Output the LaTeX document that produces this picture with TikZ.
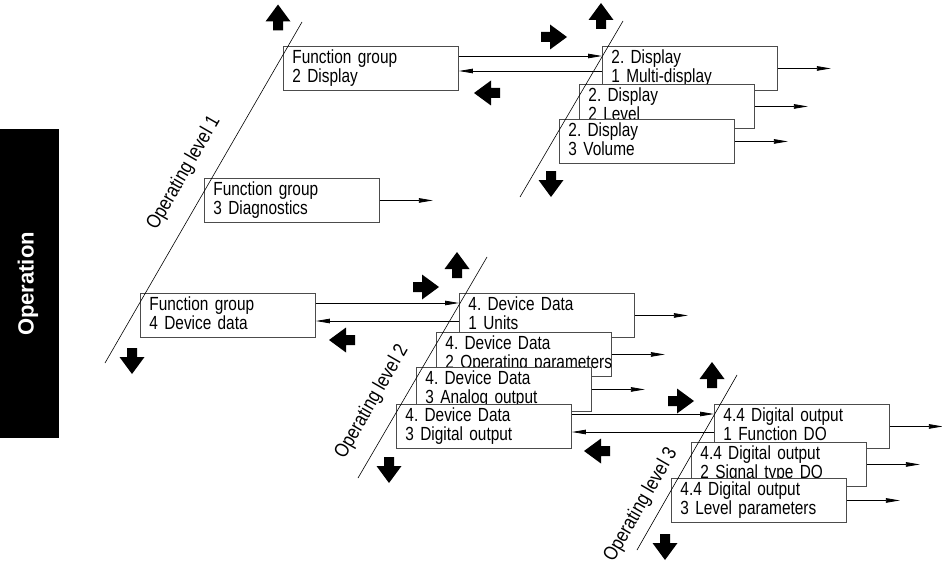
\documentclass[tikz,border=0pt]{standalone}
\usepackage{fontspec}
\setmainfont{Liberation Sans}[FakeStretch=0.81]
\newfontfamily\lblfont{Liberation Sans}[FakeStretch=0.84]
\newfontfamily\sidefont{Liberation Sans}[FakeStretch=1.0]
\usetikzlibrary{arrows.meta}
\frenchspacing
\begin{document}
\begin{tikzpicture}[x=1pt,y=-1pt,
  box/.style={draw=black!70, line width=0.9pt, fill=white, anchor=north west,
    minimum width=175pt, minimum height=44pt, text width=157pt,
    text height=14pt, text depth=23pt,
    inner xsep=9pt, inner ysep=0pt, align=left,
    font=\fontsize{19}{18.5}\selectfont},
  lvl/.style={line width=0.6pt},
  lvllabel/.style={rotate=60, font=\lblfont\fontsize{20}{21}\selectfont, inner sep=0pt},
  conn/.style={line width=0.8pt, -{Triangle[length=14pt,width=4.5pt]}},
  barrow/.pic={\fill (-13,-5) -- (-4,-5) -- (-4,-12.5) -- (13,0) -- (-4,12.5) -- (-4,5) -- (-13,5) -- cycle;}
]
\useasboundingbox (0,0) rectangle (942,567);

% side tab
\fill (0,129) rectangle (59,438);
\node[text=white, rotate=90, font=\sidefont\bfseries\fontsize{22}{23}\selectfont, inner sep=0pt] (op) at (28,284) {Operation};

% boxes
\node[box] (A) at (283,46) {\mbox{Function group}\\\mbox{2 Display}};
\node[box] (B1) at (602,46) {\mbox{2. Display}\\\mbox{1 Multi-display}};
\node[box] (B2) at (579,84) {\mbox{2. Display}\\\mbox{2 Level}};
\node[box] (B3) at (559,119) {\mbox{2. Display}\\\mbox{3 Volume}};
\node[box] (C) at (204,178) {\mbox{Function group}\\\mbox{3 Diagnostics}};
\node[box] (D) at (140,293) {\mbox{Function group}\\\mbox{4 Device data}};
\node[box] (E1) at (459,293) {\mbox{4. Device Data}\\\mbox{1 Units}};
\node[box] (E2) at (436,332) {\mbox{4. Device Data}\\\mbox{2 Operating parameters}};
\node[box] (E3) at (416,367) {\mbox{4. Device Data}\\\mbox{3 Analog output}};
\node[box] (E4) at (396,404) {\mbox{4. Device Data}\\\mbox{3 Digital output}};
\node[box] (F1) at (714,404) {\mbox{4.4 Digital output}\\\mbox{1 Function DO}};
\node[box] (F2) at (691,442) {\mbox{4.4 Digital output}\\\mbox{2 Signal type DO}};
\node[box] (F3) at (671,478) {\mbox{4.4 Digital output}\\\mbox{3 Level parameters}};

% level lines
\coordinate (l1a) at (302,22);  \coordinate (l1b) at (105,363);
\coordinate (l2a) at (623,21);  \coordinate (l2b) at (520,197);
\coordinate (l3a) at (487,257); \coordinate (l3b) at (358,478);
\coordinate (l4a) at (737,375); \coordinate (l4b) at (637,550);
\draw[lvl] (l1a) -- (l1b);
\draw[lvl] (l2a) -- (l2b);
\draw[lvl] (l3a) -- (l3b);
\draw[lvl] (l4a) -- (l4b);

% level labels
\node[lvllabel] (ol1) at (184,173) {Operating level 1};
\node[lvllabel] (ol2) at (372,402) {Operating level 2};
\node[lvllabel] (ol3) at (641,505) {Operating level 3};

% connectors between levels
\draw[conn] ([yshift=-10pt]A.north east) -- ([yshift=-10pt]B1.north west);
\draw[conn] ([yshift=-25pt]B1.north west) -- ([yshift=-25pt]A.north east);
\draw[conn] ([yshift=-10pt]D.north east) -- ([yshift=-10pt]E1.north west);
\draw[conn] ([yshift=-28pt]E1.north west) -- ([yshift=-28pt]D.north east);
\draw[conn] ([yshift=-10pt]E4.north east) -- ([yshift=-10pt]F1.north west);
\draw[conn] ([yshift=-28pt]F1.north west) -- ([yshift=-28pt]E4.north east);

% outgoing arrows
\foreach \n in {B1,B2,B3,C,E1,E2,E3,F1,F2,F3}
  \draw[conn] (\n.east) -- ++(53,0);

% block arrows
\pic[rotate=90]  at (278,17.5) {barrow};
\pic[rotate=-90] at (132,361) {barrow};
\pic[rotate=90]  at (601,16) {barrow};
\pic[rotate=-90] at (551,184) {barrow};
\pic             at (554,37) {barrow};
\pic[rotate=180] at (487,93) {barrow};
\pic             at (426,287) {barrow};
\pic[rotate=180] at (342,340) {barrow};
\pic[rotate=90]  at (457,265) {barrow};
\pic[rotate=-90] at (389,470) {barrow};
\pic             at (681,401) {barrow};
\pic[rotate=180] at (597,451) {barrow};
\pic[rotate=90]  at (712,375) {barrow};
\pic[rotate=-90] at (665,547) {barrow};
\end{tikzpicture}
\end{document}
